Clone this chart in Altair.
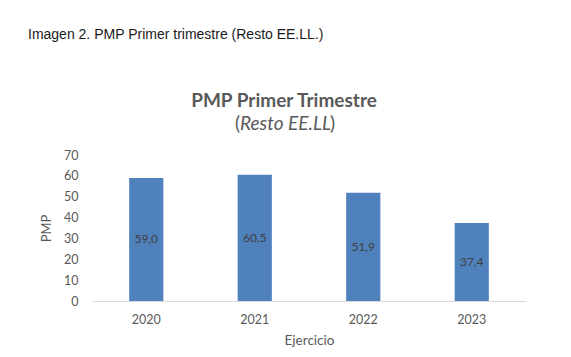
import altair as alt
import pandas as pd

years = ["2020", "2021", "2022", "2023"]
pmp = [59.0, 60.5, 51.9, 37.4]
labels = ["59,0", "60,5", "51,9", "37,4"]

caption = "Imagen 2. PMP Primer trimestre (Resto EE.LL.)"
title_main = "PMP Primer Trimestre"
title_open = "("
title_italic = "Resto EE.LL"
title_close = ")"
y_ticks = [0, 10, 20, 30, 40, 50, 60, 70]

df = pd.DataFrame({"Ejercicio": years, "PMP": pmp, "label": labels})

FONT = "Lato"
GRAY = "#595959"

base = alt.Chart(df)

yscale = alt.Scale(domain=[0, 70], nice=False)
xscale = alt.Scale(paddingInner=0.0, paddingOuter=0.0)
xaxis = alt.Axis(title="Ejercicio", labelAngle=0, labelFontSize=12.5,
                 labelColor=GRAY, labelFont=FONT, labelPadding=12,
                 titleFont=FONT, titleFontSize=13.5, titleColor=GRAY,
                 titleFontWeight="normal", titlePadding=8,
                 ticks=False, domainColor="#D9D9D9", domainWidth=1)
yaxis = alt.Axis(title="PMP", values=y_ticks,
                 labelFontSize=12.5, labelColor=GRAY, labelFont=FONT,
                 labelPadding=14, titleFont=FONT, titleFontSize=13,
                 titleColor=GRAY, titleFontWeight="normal",
                 titlePadding=10, grid=False, ticks=False, domain=False)

bars = base.mark_bar(color="#4F81BD", width={"band": 0.315}).encode(
    x=alt.X("Ejercicio:N", sort=years, scale=xscale, axis=xaxis),
    y=alt.Y("PMP:Q", scale=yscale, axis=yaxis),
)

text = base.mark_text(font=FONT, fontSize=12, color="#404040").encode(
    x=alt.X("Ejercicio:N", sort=years, scale=xscale, axis=xaxis),
    y=alt.Y("mid:Q", scale=yscale, axis=yaxis, title="PMP"),
    text="label:N",
).transform_calculate(mid="datum.PMP / 2")

def note(s, x, y, size, weight="normal", style="normal", align="left",
         font=FONT, color=GRAY):
    return alt.Chart(pd.DataFrame({"t": [s]})).mark_text(
        font=font, fontSize=size, fontWeight=weight, fontStyle=style,
        align=align, baseline="alphabetic", color=color,
    ).encode(x=alt.value(x), y=alt.value(y), text="t:N")

L, T = 92, 155
cap = note(caption, 28 - L, 39 - T, 14, font="Liberation Sans", color="#1a1a1a")
t1 = note(title_main, 284 - L, 107 - T, 19, weight="bold", align="center")
t2a = note(title_open, 240 - L, 130 - T, 19, align="right")
t2b = note(title_italic, 240 - L, 130 - T, 19, style="italic", align="left")
t2c = note(title_close, 330 - L, 130 - T, 19, align="left")

chart = alt.layer(bars, text, cap, t1, t2a, t2b, t2c).properties(
    width=434, height=146,
    autosize=alt.AutoSizeParams(type="none"),
    padding={"left": L, "top": T, "right": 571 - 526, "bottom": 357 - 301},
    background="white",
).configure_view(stroke=None).configure_axis(labelOverlap=False)

chart.save("out.html", embed_options={"renderer": "svg", "actions": False})
